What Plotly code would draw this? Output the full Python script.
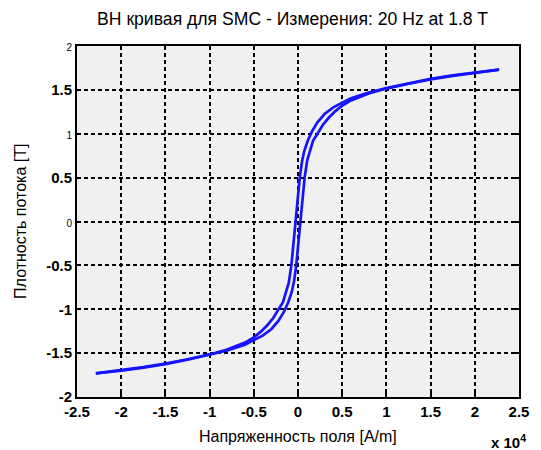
import plotly.graph_objects as go

# Descending branch (from +saturation to -saturation), H in A/m, B in T
h_desc = [22750, 20000, 17500, 15000, 12500, 10000, 8000, 6000, 5000, 4000, 3000, 2200, 1600,
          1100, 700, 450, 200, 0, -275, -550, -750, -1050, -1350, -1700, -2200, -2800, -3500,
          -4200, -5000, -6000, -8000, -10000, -12500, -15000, -17500, -20000, -22870]
b_desc = [1.73, 1.70, 1.665, 1.625, 1.575, 1.52, 1.47, 1.405, 1.355, 1.30, 1.225, 1.13, 1.03,
          0.92, 0.80, 0.68, 0.50, 0.30, 0.0, -0.30, -0.50, -0.70, -0.815, -0.92, -1.0, -1.10, -1.185,
          -1.255, -1.32, -1.38, -1.46, -1.515, -1.57, -1.62, -1.66, -1.695, -1.73]

# Ascending branch (from -saturation to +saturation)
h_asc = [-22870, -20000, -17500, -15000, -12500, -10000, -8000, -6000, -5000, -4000, -3000, -2200, -1600,
         -1100, -700, -450, -200, 0, 275, 550, 750, 1050, 1350, 1700, 2200, 2800, 3500,
         4200, 5000, 6000, 8000, 10000, 12500, 15000, 17500, 20000, 22750]
b_asc = [-1.73, -1.70, -1.665, -1.625, -1.575, -1.52, -1.47, -1.405, -1.355, -1.30, -1.225, -1.13, -1.03,
         -0.92, -0.80, -0.68, -0.50, -0.30, 0.0, 0.30, 0.50, 0.70, 0.815, 0.92, 1.0, 1.10, 1.185,
         1.255, 1.32, 1.38, 1.46, 1.515, 1.57, 1.62, 1.66, 1.695, 1.73]

x_ticks = [-2.5, -2, -1.5, -1, -0.5, 0, 0.5, 1, 1.5, 2, 2.5]
x_ticktext = ["-2.5", "-2", "-1.5", "-1", "-0.5", "0", "0.5", "1", "1.5", "2", "2.5"]
y_ticks = [-2, -1.5, -1, -0.5, 0, 0.5, 1, 1.5, 2]
y_ticktext = ["-2", "-1.5", "-1", "-0.5", "0", "0.5", "1", "1.5", "2"]
y_small = {"2", "1", "0"}

SCALE = 1e4
FONT = "Liberation Sans, Arial, Helvetica, sans-serif"

def fmt_y(t):
    if t in y_small:
        return "<span style='font-size:10px;font-weight:normal'>" + t + "</span>"
    return t

fig = go.Figure()
for hs, bs in [(h_desc, b_desc), (h_asc, b_asc)]:
    fig.add_trace(go.Scatter(
        x=[h / SCALE for h in hs], y=bs, mode="lines",
        line=dict(color="#1414ff", width=2.7), showlegend=False, hoverinfo="skip"))

fig.update_layout(
    width=541, height=450,
    margin=dict(l=77, r=19, t=46, b=53),
    paper_bgcolor="white", plot_bgcolor="#f0f0f0",
    font=dict(family=FONT, color="black"),
    title=dict(text="BH кривая для SMC - Измерения: 20 Hz at 1.8 T",
               x=292.5 / 541, xanchor="center", y=1 - 19 / 450, yanchor="middle", yref="container",
               font=dict(size=17.6, family=FONT, color="black")),
)

axis_common = dict(
    showline=True, linecolor="black", linewidth=2, mirror="ticks",
    ticks="inside", ticklen=4, tickcolor="black", tickwidth=1.5,
    showgrid=True, gridcolor="black", gridwidth=1.6, griddash="4px,3px",
    zeroline=False,
)

fig.update_xaxes(range=[-2.5, 2.5], tickvals=x_ticks, ticktext=x_ticktext,
                 tickfont=dict(size=15, family=FONT, weight="bold"), **axis_common)
fig.update_yaxes(range=[-2, 2], tickvals=y_ticks, ticktext=[fmt_y(t) for t in y_ticktext],
                 tickfont=dict(size=15, family=FONT, weight="bold"), **axis_common)

fig.add_annotation(text="Напряженность поля [A/m]", xref="paper", yref="paper",
                   x=0.5, y=-40 / 351, yanchor="middle", xanchor="center", showarrow=False,
                   font=dict(size=16, family=FONT, color="black"))
fig.add_annotation(text="Плотность потока [T]", xref="paper", yref="paper",
                   x=-57 / 445, y=0.5, xanchor="center", yanchor="middle", textangle=-90,
                   showarrow=False, font=dict(size=16, family=FONT, color="black"))
fig.add_annotation(text="x 10<sup>4</sup>", xref="paper", yref="paper",
                   x=1 + 9 / 445, y=-44 / 351, xanchor="right", yanchor="middle", showarrow=False,
                   font=dict(size=15, family=FONT, color="black", weight="bold"))

fig.write_html("out.html")
